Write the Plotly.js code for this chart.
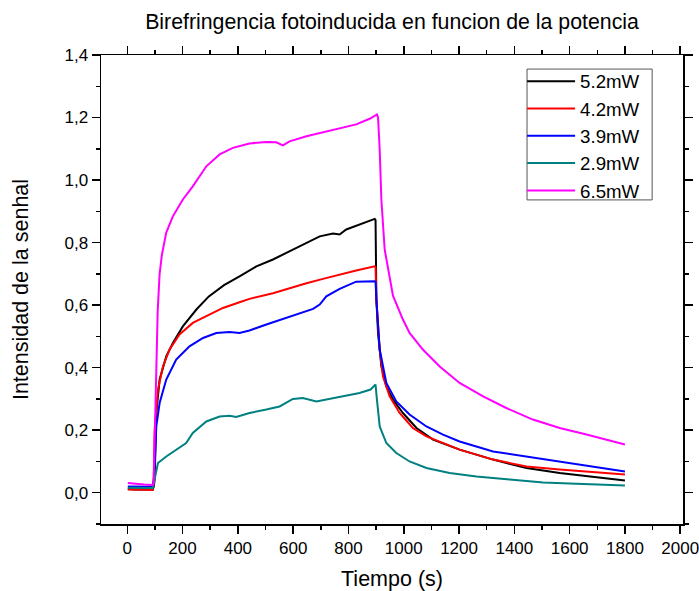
<!DOCTYPE html>
<html>
<head>
<meta charset="utf-8">
<script src="https://cdn.plot.ly/plotly-3.0.1.min.js"></script>
<style>html,body{margin:0;padding:0;background:#fff}#chart{width:699px;height:591px}</style>
</head>
<body>
<div id="chart"></div>
<script>
// Series: time (s) and signal values
const t52 = [2, 30, 60, 92, 96, 99, 105, 117, 141, 165, 201, 250, 295, 350, 406, 467, 527, 587, 648, 696, 744, 768, 792, 840, 895, 898, 901, 907, 919, 937, 961, 997, 1046, 1106, 1202, 1323, 1444, 1564, 1685, 1800];
const y52 = [0.012, 0.010, 0.011, 0.010, 0.02, 0.042, 0.255, 0.362, 0.436, 0.479, 0.532, 0.586, 0.628, 0.664, 0.692, 0.724, 0.746, 0.772, 0.801, 0.820, 0.829, 0.826, 0.842, 0.858, 0.876, 0.872, 0.618, 0.511, 0.404, 0.340, 0.298, 0.255, 0.207, 0.170, 0.138, 0.106, 0.079, 0.063, 0.050, 0.039];

const t42 = [2, 30, 60, 92, 96, 99, 111, 129, 153, 189, 237, 286, 346, 406, 442, 527, 587, 648, 708, 768, 828, 895, 898, 901, 913, 925, 949, 985, 1033, 1082, 1142, 1202, 1323, 1444, 1564, 1685, 1800];
const y42 = [0.010, 0.009, 0.010, 0.009, 0.05, 0.200, 0.330, 0.404, 0.458, 0.506, 0.543, 0.564, 0.591, 0.609, 0.620, 0.638, 0.655, 0.670, 0.684, 0.698, 0.711, 0.724, 0.722, 0.618, 0.458, 0.372, 0.308, 0.255, 0.207, 0.180, 0.159, 0.138, 0.106, 0.084, 0.074, 0.065, 0.058];

const t39 = [2, 30, 60, 92, 96, 99, 105, 117, 141, 177, 225, 274, 322, 370, 406, 442, 503, 563, 623, 672, 696, 720, 768, 828, 895, 898, 901, 913, 937, 973, 1021, 1082, 1142, 1202, 1323, 1444, 1564, 1685, 1800];
const y39 = [0.020, 0.019, 0.020, 0.019, 0.04, 0.084, 0.212, 0.287, 0.362, 0.426, 0.468, 0.495, 0.511, 0.514, 0.511, 0.519, 0.538, 0.556, 0.575, 0.588, 0.602, 0.628, 0.652, 0.675, 0.676, 0.674, 0.618, 0.458, 0.351, 0.292, 0.250, 0.212, 0.186, 0.164, 0.132, 0.116, 0.100, 0.084, 0.068];

const t29 = [2, 30, 60, 92, 96, 99, 111, 141, 177, 213, 237, 286, 334, 370, 394, 442, 503, 551, 599, 635, 684, 732, 792, 840, 880, 898, 903, 913, 937, 973, 1021, 1082, 1166, 1263, 1383, 1504, 1624, 1800];
const y29 = [0.016, 0.015, 0.016, 0.015, 0.03, 0.042, 0.095, 0.116, 0.138, 0.159, 0.191, 0.228, 0.244, 0.246, 0.242, 0.255, 0.266, 0.276, 0.300, 0.303, 0.292, 0.300, 0.310, 0.319, 0.330, 0.346, 0.298, 0.212, 0.159, 0.127, 0.100, 0.079, 0.063, 0.052, 0.042, 0.033, 0.029, 0.023];

const t65 = [2, 30, 60, 92, 95, 100, 105, 110, 117, 125, 141, 165, 201, 237, 286, 334, 382, 442, 503, 539, 563, 587, 648, 708, 768, 828, 877, 903, 907, 913, 919, 931, 961, 997, 1021, 1069, 1130, 1202, 1287, 1371, 1467, 1564, 1661, 1800];
const y65 = [0.031, 0.028, 0.026, 0.025, 0.03, 0.20, 0.40, 0.58, 0.70, 0.76, 0.832, 0.884, 0.938, 0.980, 1.044, 1.082, 1.103, 1.117, 1.122, 1.121, 1.111, 1.124, 1.140, 1.153, 1.164, 1.178, 1.196, 1.210, 1.200, 1.098, 0.938, 0.778, 0.630, 0.554, 0.511, 0.458, 0.404, 0.351, 0.308, 0.271, 0.234, 0.207, 0.186, 0.154];

const seriesNames = ['5.2mW', '4.2mW', '3.9mW', '2.9mW', '6.5mW'];
const seriesColors = ['#000000', '#ff0000', '#0000ff', '#008080', '#ff00ff'];
const xs = [t52, t42, t39, t29, t65];
const ys = [y52, y42, y39, y29, y65];

const xTickVals = [0, 200, 400, 600, 800, 1000, 1200, 1400, 1600, 1800, 2000];
const yTickVals = [0, 0.2, 0.4, 0.6, 0.8, 1.0, 1.2, 1.4];

const traces = seriesNames.map((n, i) => ({
  type: 'scatter', mode: 'lines', name: n,
  x: xs[i], y: ys[i],
  line: {color: seriesColors[i], width: 2}
}));

const font = 'Liberation Sans, Arial, sans-serif';
const layout = {
  width: 699, height: 591,
  paper_bgcolor: '#fff', plot_bgcolor: '#fff',
  separators: ', ',
  margin: {l: 101, r: 16, t: 55, b: 67},
  font: {family: font, color: '#000', size: 17},
  title: {text: 'Birefringencia fotoinducida en funcion de la potencia', font: {family: font, size: 21.3, color: '#000'},
          x: 0.5, xref: 'paper', y: 0.963, yref: 'container', yanchor: 'middle'},
  xaxis: {
    range: [-95, 2010], tickvals: xTickVals, showgrid: false, zeroline: false,
    showline: true, linecolor: '#000', linewidth: 1.5, mirror: 'ticks',
    ticks: 'outside', ticklen: 8, tickwidth: 1.5, tickcolor: '#000',
    minor: {dtick: 100, tick0: 0, ticks: 'outside', ticklen: 4, tickwidth: 1.5, tickcolor: '#000'},
    tickfont: {size: 17, family: font}, ticklabeloverflow: 'allow',
    title: {text: 'Tiempo (s)', font: {size: 21.5, family: font}, standoff: 14}
  },
  yaxis: {
    range: [-0.1, 1.4], tickvals: yTickVals, tickformat: '.1f', showgrid: false, zeroline: false,
    showline: true, linecolor: '#000', linewidth: 1.5, mirror: 'ticks',
    ticks: 'outside', ticklen: 8, tickwidth: 1.5, tickcolor: '#000',
    minor: {dtick: 0.1, tick0: 0, ticks: 'outside', ticklen: 4, tickwidth: 1.5, tickcolor: '#000'},
    tickfont: {size: 17, family: font},
    title: {text: 'Intensidad de la senhal', font: {size: 21.5, family: font}, standoff: 30}
  },
  showlegend: true,
  legend: {
    x: 0.7235, y: 0.984, xanchor: 'left', yanchor: 'top',
    bgcolor: 'rgba(0,0,0,0)', borderwidth: 0,
    font: {size: 18.7, family: font, color: '#000'},
    itemwidth: 48,
    tracegroupgap: 0
  },
  shapes: [{type: 'rect', xref: 'paper', yref: 'paper', x0: 0.732, x1: 0.947, y0: 0.691, y1: 0.970,
            line: {color: '#555', width: 1}, fillcolor: 'rgba(0,0,0,0)', layer: 'below'}]
};

Plotly.newPlot('chart', traces, layout, {staticPlot: true, displayModeBar: false});
</script>
</body>
</html>
